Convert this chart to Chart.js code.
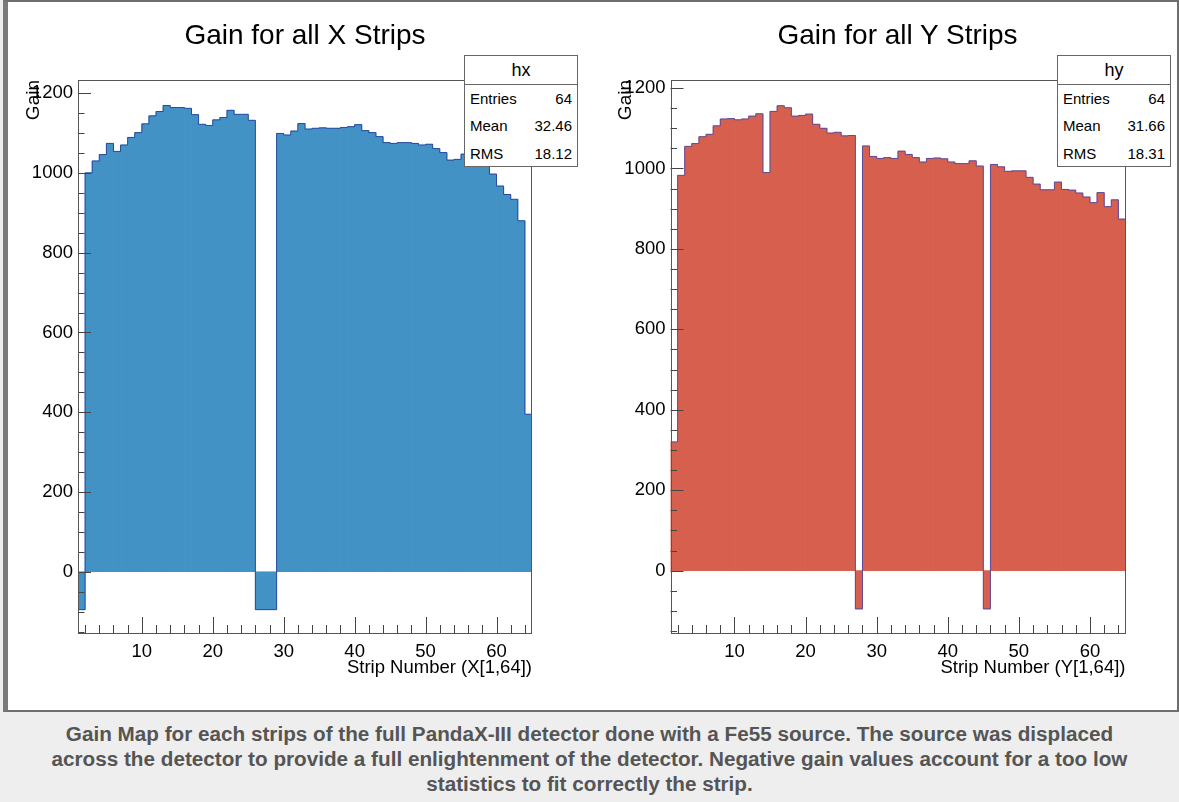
<!DOCTYPE html>
<html>
<head>
<meta charset="utf-8">
<script src="https://cdn.jsdelivr.net/npm/chart.js@4.4.1/dist/chart.umd.min.js"></script>
<style>
  html, body { margin: 0; padding: 0; }
  body {
    width: 1179px; height: 802px; position: relative; overflow: hidden;
    background: #eeeeee;
    font-family: "Liberation Sans", Arial, Helvetica, sans-serif;
  }
  #panel {
    position: absolute; left: 3px; top: 0; width: 1176px; height: 712px;
    box-sizing: border-box; background: #ffffff;
    border: 2px solid #6e6e6e; border-left: 5px solid #7a7a7a;
  }
  canvas { position: absolute; top: 0; }
  #chartX { left: 0; }
  #chartY { left: 590px; }
  .title {
    position: absolute; top: 19px; font-size: 28px; line-height: 32px;
    text-align: center; color: #000; white-space: nowrap;
  }
  .stats {
    position: absolute; top: 55px; width: 114px; height: 112px;
    box-sizing: border-box; background: #fff; border: 1px solid #666; color: #000;
  }
  .stats .head {
    height: 29px; line-height: 29px; text-align: center; font-size: 18px;
    box-sizing: border-box; border-bottom: 1px solid #666;
  }
  .stats .row {
    display: flex; justify-content: space-between;
    height: 27.3px; line-height: 27.3px; padding: 0 5px 0 5px; font-size: 15px;
  }
  #caption {
    position: absolute; left: 0; top: 721px; width: 1179px;
    text-align: center; white-space: nowrap;
    font-weight: bold; font-size: 20.7px; line-height: 25px; color: #555555;
  }
</style>
</head>
<body>
<div id="panel"></div>
<canvas id="chartX" width="600" height="712"></canvas>
<canvas id="chartY" width="589" height="712"></canvas>

<div class="title" style="left:0;width:610px;">Gain for all X Strips</div>
<div class="title" style="left:600px;width:595px;">Gain for all Y Strips</div>

<div class="stats" style="left:464px;">
  <div class="head">hx</div>
  <div class="row"><span>Entries</span><span>64</span></div>
  <div class="row"><span>Mean</span><span>32.46</span></div>
  <div class="row"><span>RMS</span><span>18.12</span></div>
</div>
<div class="stats" style="left:1057px;">
  <div class="head">hy</div>
  <div class="row"><span>Entries</span><span>64</span></div>
  <div class="row"><span>Mean</span><span>31.66</span></div>
  <div class="row"><span>RMS</span><span>18.31</span></div>
</div>

<div id="caption">Gain Map for each strips of the full PandaX-III detector done with a Fe55 source. The source was displaced<br>across the detector to provide a full enlightenment of the detector. Negative gain values account for a too low<br>statistics to fit correctly the strip.</div>

<script>
// Strip numbers (bin i covers [i, i+1])
const strips = [
  1, 2, 3, 4, 5, 6, 7, 8, 9, 10, 11, 12, 13, 14, 15, 16,
  17, 18, 19, 20, 21, 22, 23, 24, 25, 26, 27, 28, 29, 30, 31, 32,
  33, 34, 35, 36, 37, 38, 39, 40, 41, 42, 43, 44, 45, 46, 47, 48,
  49, 50, 51, 52, 53, 54, 55, 56, 57, 58, 59, 60, 61, 62, 63, 64
];

// Fitted gain per X strip (negative = fit failed, too few counts)
const gainX = [
  -95, 1000, 1030, 1046, 1074, 1054, 1070, 1089, 1101, 1123, 1143, 1154, 1169, 1164, 1164, 1162,
  1146, 1122, 1119, 1133, 1139, 1157, 1147, 1147, 1132, -95, -95, -95, 1099, 1095, 1105, 1124,
  1110, 1112, 1113, 1112, 1112, 1114, 1116, 1121, 1106, 1101, 1091, 1076, 1074, 1076, 1076, 1074,
  1070, 1072, 1061, 1051, 1032, 1034, 1047, 1040, 1030, 1022, 997, 967, 946, 934, 880, 395
];

// Fitted gain per Y strip
const gainY = [
  320, 983, 1055, 1062, 1079, 1085, 1106, 1123, 1124, 1121, 1123, 1130, 1136, 990, 1142, 1156,
  1151, 1130, 1132, 1135, 1110, 1100, 1088, 1090, 1081, 1082, -95, 1056, 1030, 1025, 1027, 1025,
  1043, 1035, 1027, 1016, 1025, 1026, 1024, 1016, 1012, 1012, 1019, 1006, -95, 1010, 1004, 993,
  994, 994, 978, 961, 947, 947, 966, 948, 946, 939, 929, 915, 940, 905, 922, 874
];

// Labelled ticks
const xTickLabels = [10, 20, 30, 40, 50, 60];
const yTickLabels = [0, 200, 400, 600, 800, 1000, 1200];

const FONT = '"Liberation Sans", Arial, Helvetica, sans-serif';

// ROOT-style frame: box around the pad plus inward-pointing tick marks
const rootFrame = {
  id: 'rootFrame',
  afterDatasetsDraw(chart, args, o) {
    const { ctx, chartArea: a } = chart;
    const xs = chart.scales.x, ys = chart.scales.y;
    ctx.save();
    ctx.strokeStyle = o.color;
    ctx.lineWidth = 1;
    ctx.beginPath();
    for (let v = Math.ceil(xs.min / o.xMinorStep) * o.xMinorStep; v <= xs.max; v += o.xMinorStep) {
      if (v <= xs.min || v >= xs.max) continue;
      const px = Math.round(xs.getPixelForValue(v)) + 0.5;
      const len = v % o.xMajorStep === 0 ? o.xMajorLen : o.xMinorLen;
      ctx.moveTo(px, a.bottom);
      ctx.lineTo(px, a.bottom - len);
    }
    for (let v = Math.ceil(ys.min / o.yMinorStep) * o.yMinorStep; v <= ys.max; v += o.yMinorStep) {
      const py = Math.round(ys.getPixelForValue(v)) + 0.5;
      const len = v % o.yMajorStep === 0 ? o.yMajorLen : o.yMinorLen;
      ctx.moveTo(a.left, py);
      ctx.lineTo(a.left + len, py);
    }
    ctx.stroke();
    ctx.strokeStyle = o.frameColor;
    ctx.strokeRect(Math.round(a.left) + 0.5, Math.round(a.top) + 0.5,
                   Math.round(a.right) - Math.round(a.left) - 1, Math.round(a.bottom) - Math.round(a.top) - 1);
    ctx.restore();
  }
};

function histChart(canvasId, values, opt) {
  // bar fill per bin, centred in its [i, i+1] interval
  const bars = strips.map((s, i) => ({ x: s + 0.5, y: values[i] }));
  // histogram outline as a step line through the bin edges
  const outline = strips.map((s, i) => ({ x: s, y: values[i] }));
  outline.push({ x: strips[strips.length - 1] + 1, y: values[values.length - 1] });

  return new Chart(document.getElementById(canvasId), {
    type: 'bar',
    data: {
      datasets: [
        {
          type: 'bar', data: bars, backgroundColor: opt.fill, borderWidth: 0,
          barPercentage: 1, categoryPercentage: 1, order: 2
        },
        {
          type: 'line', data: outline, stepped: 'before', borderColor: opt.line,
          borderWidth: 1, pointRadius: 0, fill: false, tension: 0, order: 1
        }
      ]
    },
    options: {
      responsive: false, animation: false, events: [], devicePixelRatio: 1,
      layout: { padding: { left: opt.padLeft, right: opt.padRight, top: 80, bottom: 28 } },
      plugins: {
        legend: { display: false },
        tooltip: { enabled: false },
        rootFrame: {
          color: '#444', frameColor: '#555',
          xMinorStep: 2, xMajorStep: 10, xMajorLen: 17, xMinorLen: 9,
          yMinorStep: 50, yMajorStep: 200, yMajorLen: 13, yMinorLen: 6.5
        }
      },
      scales: {
        x: {
          type: 'linear', min: 1, max: 65, offset: false,
          grid: { display: false, drawTicks: false, offset: false },
          border: { display: false },
          afterBuildTicks: s => { s.ticks = xTickLabels.map(v => ({ value: v })); },
          afterFit: s => { s.height = 50; },
          ticks: {
            padding: 7, color: '#000', maxRotation: 0, autoSkip: false,
            font: { family: FONT, size: 18.5 }, callback: v => String(v)
          },
          title: {
            display: true, text: opt.xTitle, align: 'end', color: '#000',
            font: { family: FONT, size: 18.5 }, padding: { top: 0, bottom: 5 }
          }
        },
        y: {
          type: 'linear', min: opt.yMin, max: opt.yMax,
          grid: { display: false, drawTicks: false },
          border: { display: false },
          afterBuildTicks: s => { s.ticks = yTickLabels.map(v => ({ value: v })); },
          afterFit: s => { s.width = 60; },
          ticks: {
            padding: 5, color: '#000', autoSkip: false,
            font: { family: FONT, size: 18.5 }, callback: v => String(v)
          },
          title: {
            display: true, text: 'Gain', align: 'end', color: '#000',
            font: { family: FONT, size: 19 }, padding: { top: 4, bottom: 0 }
          }
        }
      }
    },
    plugins: [rootFrame]
  });
}

histChart('chartX', gainX, {
  fill: '#4292c6', line: '#2a4a9e', xTitle: 'Strip Number (X[1,64])',
  yMin: -156, yMax: 1233, padLeft: 18, padRight: 68
});
histChart('chartY', gainY, {
  fill: '#d6604d', line: '#5e4c9c', xTitle: 'Strip Number (Y[1,64])',
  yMin: -157.5, yMax: 1220, padLeft: 20.5, padRight: 53.5
});
</script>
</body>
</html>
